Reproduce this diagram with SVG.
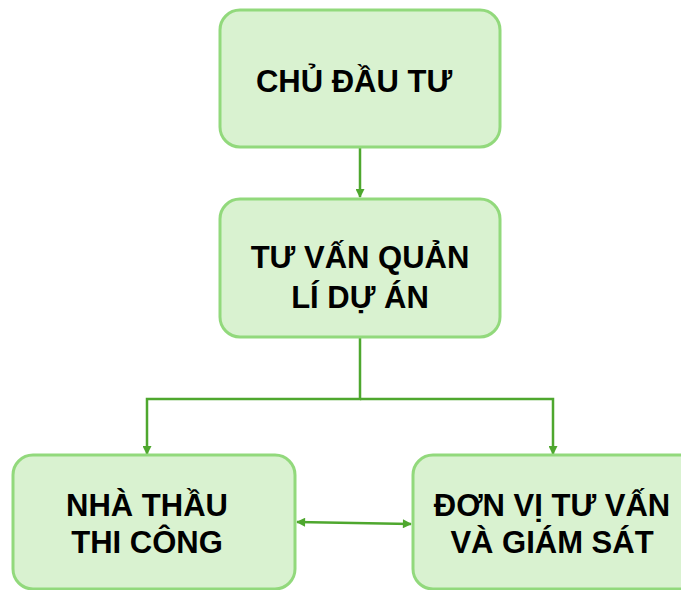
<svg xmlns="http://www.w3.org/2000/svg" width="681" height="590" viewBox="0 0 681 590">
<defs>
<style>
.box{fill:#d9f2d0;stroke:#92d97c;stroke-width:3}
.lbl{font-family:"Liberation Sans",Arial,sans-serif;font-weight:bold;font-size:31px;fill:#000;text-anchor:middle}
.con{fill:none;stroke:#4ea72e;stroke-width:2.5}
</style>
<marker id="ah" viewBox="0 0 10 10" refX="9" refY="5" markerWidth="10" markerHeight="9" orient="auto-start-reverse" markerUnits="userSpaceOnUse">
<path d="M0,0 L10,5 L0,10 Z" fill="#4ea72e"/>
</marker>
</defs>
<rect width="681" height="590" fill="#fff"/>
<g id="connectors">
<line class="con" x1="360" y1="148" x2="360" y2="197" marker-end="url(#ah)"/>
<path class="con" d="M360,338 V399 H147 V454" marker-end="url(#ah)"/>
<path class="con" d="M360,399 H553 V454" marker-end="url(#ah)"/>
<line class="con" x1="297" y1="522" x2="411" y2="524" marker-start="url(#ah)" marker-end="url(#ah)"/>
</g>
<g id="chu-dau-tu">
<rect class="box" x="220" y="10" width="280" height="137" rx="20"/>
<text class="lbl" x="354" y="92">CHỦ ĐẦU TƯ</text>
</g>
<g id="tu-van-quan-li">
<rect class="box" x="220" y="199" width="280" height="138" rx="20"/>
<text class="lbl" x="360" y="268">TƯ VẤN QUẢN</text>
<text class="lbl" x="360" y="308">LÍ DỰ ÁN</text>
</g>
<g id="nha-thau">
<rect class="box" x="13" y="455" width="282" height="134" rx="20"/>
<text class="lbl" x="147" y="516">NHÀ THẦU</text>
<text class="lbl" x="147" y="553">THI CÔNG</text>
</g>
<g id="don-vi-tu-van">
<rect class="box" x="413" y="455" width="290" height="134" rx="20"/>
<text class="lbl" x="552" y="516">ĐƠN VỊ TƯ VẤN</text>
<text class="lbl" x="552" y="553">VÀ GIÁM SÁT</text>
</g>
</svg>
